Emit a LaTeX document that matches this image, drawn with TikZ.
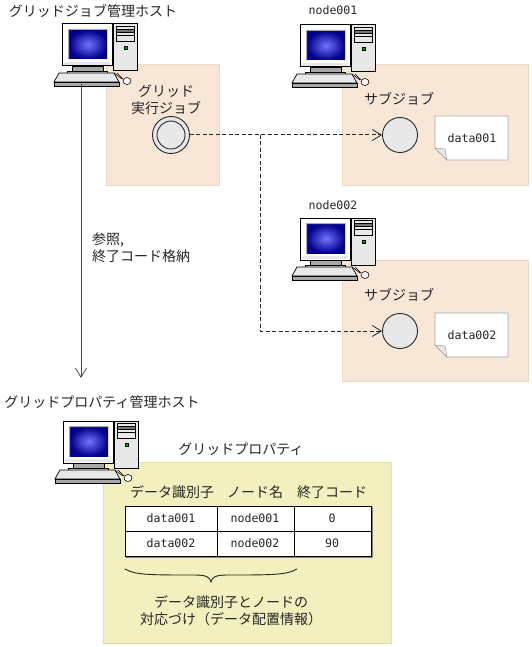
\documentclass[tikz,border=0pt]{standalone}
\usepackage{fontspec}
\setmainfont{Noto Sans CJK JP}
\newfontfamily\latinf{DejaVu Sans Mono}
\usetikzlibrary{arrows.meta,shadings}
\definecolor{peach}{HTML}{F8E7D6}
\definecolor{peachb}{HTML}{F0D9C2}
\definecolor{yel}{HTML}{F1F0BE}
\definecolor{yelb}{HTML}{E2E2A0}
\definecolor{cgray}{HTML}{E8E8E8}
\definecolor{dgray}{HTML}{A8A8A8}
\tikzset{
  x=1pt,y=-1pt,
  lbl/.style={inner sep=0pt,font=\fontsize{14}{17}\selectfont,text=black!85,align=center},
  dat/.style={inner sep=0pt,font=\fontsize{11.6}{15}\selectfont\latinf,text=black!85},
  zone/.style={fill=peach,draw=peachb,line width=.8pt},
  job/.style={circle,draw=black!85,fill=cgray,line width=.9pt,minimum size=35pt,inner sep=0pt},
  flow/.style={draw=black!85,line width=1pt,dash pattern=on 4pt off 2.5pt,-{Straight Barb[length=9pt,width=11pt,line width=.8pt]}},
  tcell/.style={draw=black,line width=1pt,fill=white},
  pics/computer/.style={code={
    % monitor
    \draw[fill=white,line width=1pt] (0,0) rectangle (50,42);
    \fill[cgray] (2,38) rectangle (48,41);
    \shade[inner color=blue!55!white,outer color=blue!55!black,shading=radial] (7,6) rectangle (45,35);
    \fill[dgray] (6,5) -- (46,5) -- (45,6) -- (7,6) -- (7,35) -- (6,36) -- cycle;
    \draw[line width=.6pt,fill=dgray] (10,42) rectangle (41,47);
    \draw[line width=.6pt,fill=cgray] (5,47) rectangle (45,49);
    % tower
    \draw[fill=cgray,line width=1pt] (51,0) rectangle (75,47);
    \draw[line width=.5pt,fill=cgray] (54,2) rectangle (72,17);
    \draw[line width=.5pt,fill=dgray!70!black] (54,5) rectangle (72,8);
    \draw[line width=.5pt] (54,11) -- (72,11);
    \draw[line width=.4pt,fill=green!70!black] (62,22) rectangle (65,25);
    % keyboard
    \draw[fill=cgray,line width=.7pt] (-8,58) -- (-3,49) -- (52,49) -- (57,58) -- cycle;
    \draw[fill=dgray,line width=.7pt] (-8,58) rectangle (57,62);
    % mouse
    \draw[line width=.6pt] (52,49) -- (60,55);
    \draw[line width=.6pt] (55,49) -- (61,55);
    \draw[fill=white,line width=.6pt] (65,57) circle[x radius=4,y radius=3.5];
  }}
}
\begin{document}
\begin{tikzpicture}
\useasboundingbox (0,0) rectangle (532,647);
% zones
\draw[zone] (106,64) rectangle (219,185);
\draw[zone] (342,64) rectangle (528,185);
\draw[zone] (342,260) rectangle (528,381);
\draw[fill=yel,draw=yelb,line width=.8pt] (103,462) rectangle (391,643);
% computers
\pic at (62,24) {computer};
\pic at (300,25) {computer};
\pic at (300,218) {computer};
\pic at (63,421) {computer};
% labels
\node[lbl] (t1) at (93,11) {グリッドジョブ管理ホスト};
\node[dat] (t2) at (333,10) {node001};
\node[dat] (t3) at (333,205) {node002};
\node[lbl] (t4) at (102,402) {グリッドプロパティ管理ホスト};
\node[lbl] (t5) at (241,449) {グリッドプロパティ};
\node[lbl] (t6) at (166,100) {グリッド\\実行ジョブ};
\node[lbl] (t7) at (399,99) {サブジョブ};
\node[lbl] (t8) at (399,295) {サブジョブ};
\node[lbl,align=left,anchor=west] (t9) at (92,248) {参照,\\終了コード格納};
% job circles
\node[circle,draw=black!85,fill=cgray,line width=.9pt,minimum size=37pt,inner sep=0pt] (g) at (171,135) {};
\node[circle,draw=black!85,fill=cgray,line width=.9pt,minimum size=28pt,inner sep=0pt] (gi) at (171,135) {};
\node[job] (s1) at (400,135) {};
\node[job] (s2) at (400,331) {};
% notes
\foreach \n/\y/\txt in {n1/116/data001,n2/313/data002}{
  \draw[draw=dgray,fill=white,line width=.8pt] (435,\y) -- (508,\y) -- (508,\y+44) -- (447,\y+44) -- (435,\y+32) -- cycle;
  \draw[draw=dgray,fill=cgray,line width=.6pt] (435,\y+32) -- (445,\y+33) -- (447,\y+44) -- cycle;
  \node[dat] (\n) at (472,\y+22) {\txt};
}
% connectors
\coordinate (ht) at (81,84);
\coordinate (hb) at (81,378);
\draw[line width=1pt,draw=black!70,-{Straight Barb[length=9pt,width=11pt,line width=.8pt]}] (ht) -- (hb);
\coordinate (j) at (260,135);
\draw[flow] (g) -- (s1);
\draw[flow] (j) |- (s2);
% table
\node[lbl] (h1) at (172,492) {データ識別子};
\node[lbl] (h2) at (255,492) {ノード名};
\node[lbl] (h3) at (332,492) {終了コード};
\draw[tcell] (125,506) rectangle (371,556);
\draw[line width=1pt] (125,531) -- (371,531) (217,506) -- (217,556) (294,506) -- (294,556);
\draw[draw=gray,line width=.8pt] (372,507) -- (372,557) -- (126,557);
\node[dat] (a1) at (171,518) {data001};
\node[dat] (a2) at (255,518) {node001};
\node[dat] (a3) at (332,518) {0};
\node[dat] (b1) at (171,543) {data002};
\node[dat] (b2) at (255,543) {node002};
\node[dat] (b3) at (332,543) {90};
% brace
\draw[line width=.9pt,draw=black!85] (125,569) .. controls (135,575) and (150,575) .. (195,575)
  .. controls (206,575) and (210,577) .. (211,582)
  .. controls (212,577) and (216,575) .. (227,575)
  .. controls (272,575) and (287,575) .. (297,569);
\node[lbl] (cap) at (231,611) {データ識別子とノードの\\対応づけ（データ配置情報）};
\end{tikzpicture}
\end{document}
